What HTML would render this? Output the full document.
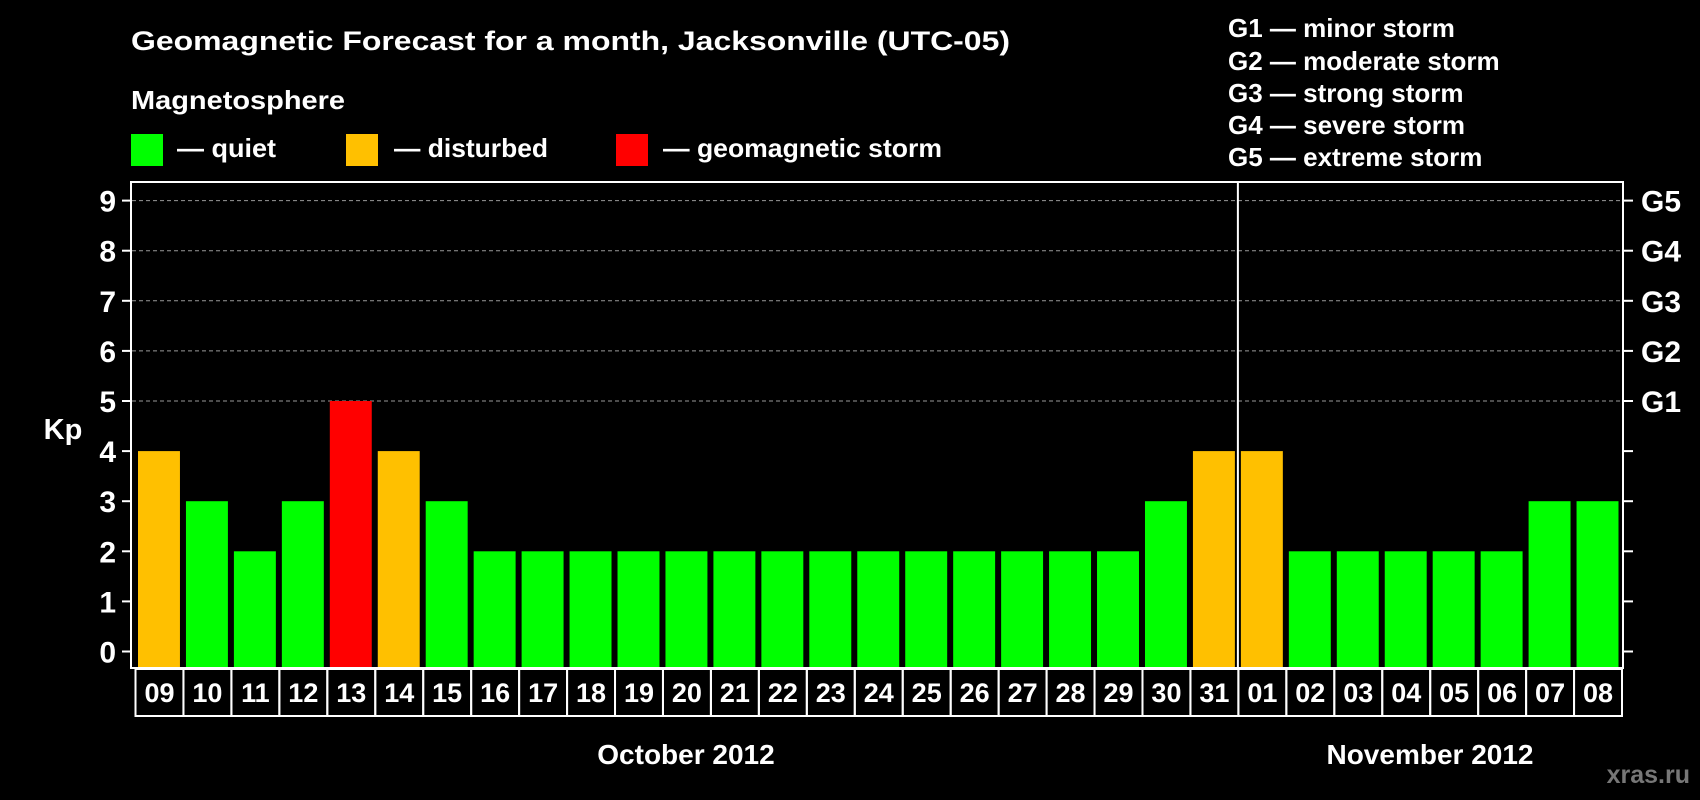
<!DOCTYPE html>
<html><head><meta charset="utf-8"><style>
html,body{margin:0;padding:0;background:#000;}
svg{display:block;font-family:"Liberation Sans",Arial,sans-serif;font-weight:bold;}
</style></head><body>
<svg id="chart" width="1700" height="800" viewBox="0 0 1700 800" xmlns="http://www.w3.org/2000/svg">
<rect width="1700" height="800" fill="#000"/>
<text x="131" y="50" fill="#fff" font-size="27" textLength="879" lengthAdjust="spacingAndGlyphs">Geomagnetic Forecast for a month, Jacksonville (UTC-05)</text>
<text x="131" y="109" fill="#fff" font-size="26" textLength="214" lengthAdjust="spacingAndGlyphs">Magnetosphere</text>
<g><rect x="131" y="134" width="32" height="32" fill="#00ff00"/><text x="177" y="157" fill="#fff" font-size="26" textLength="99" lengthAdjust="spacingAndGlyphs">— quiet</text></g>
<g><rect x="346" y="134" width="32" height="32" fill="#ffc000"/><text x="394" y="157" fill="#fff" font-size="26" textLength="154" lengthAdjust="spacingAndGlyphs">— disturbed</text></g>
<g><rect x="616" y="134" width="32" height="32" fill="#ff0000"/><text x="663" y="157" fill="#fff" font-size="26" textLength="279" lengthAdjust="spacingAndGlyphs">— geomagnetic storm</text></g>
<g fill="#fff" font-size="26">
<text x="1228" y="37">G1 — minor storm</text>
<text x="1228" y="70">G2 — moderate storm</text>
<text x="1228" y="102">G3 — strong storm</text>
<text x="1228" y="134">G4 — severe storm</text>
<text x="1228" y="166">G5 — extreme storm</text>
</g>
<g id="grid"></g>
<g id="bars"></g>
<rect x="131" y="182" width="1492" height="486" fill="none" stroke="#fff" stroke-width="2"/>
<g id="axes"></g>
<g id="xlabels"></g>
<text x="686" y="764" fill="#fff" font-size="28" text-anchor="middle">October 2012</text>
<text x="1430" y="764" fill="#fff" font-size="28" text-anchor="middle">November 2012</text>
<text x="63" y="439" fill="#fff" font-size="29" text-anchor="middle">Kp</text>
<text x="1690" y="783" fill="#777" font-size="25" text-anchor="end">xras.ru</text>
</svg>
<script>
const days = ["09","10","11","12","13","14","15","16","17","18","19","20","21","22","23","24","25","26","27","28","29","30","31","01","02","03","04","05","06","07","08"];
const kpValues = [4,3,2,3,5,4,3,2,2,2,2,2,2,2,2,2,2,2,2,2,2,3,4,4,2,2,2,2,2,3,3];
const yTicks = [0,1,2,3,4,5,6,7,8,9];
const gLabels = ["G1","G2","G3","G4","G5"];
const NS = "http://www.w3.org/2000/svg";
const y0 = 651.5, unit = 50.1;
const yScale = v => y0 - v * unit;
const x0 = 135.5, step = (1622 - 135.5) / days.length;
const xScale = i => x0 + i * step;
function mk(tag, attrs, parent){const e=document.createElementNS(NS,tag);for(const k in attrs)e.setAttribute(k,attrs[k]);parent.appendChild(e);return e;}
const grid=document.getElementById('grid'),bars=document.getElementById('bars'),axes=document.getElementById('axes'),xl=document.getElementById('xlabels');
yTicks.forEach(v=>{
  const y=yScale(v);
  if(v>=5){const l=mk('line',{x1:132,x2:1622,y1:y,y2:y,stroke:'#999','stroke-width':1,'stroke-dasharray':'4,3'},grid);
  
  }
  const t1=mk('line',{x1:122,x2:131,y1:y,y2:y,stroke:'#fff','stroke-width':2},axes);
  
  
  const t2=mk('line',{x1:1623,x2:1633,y1:y,y2:y,stroke:'#fff','stroke-width':2},axes);
  
  
  const tx=mk('text',{x:116,y:y+11,fill:'#fff','font-size':30,'text-anchor':'end'},axes);
  tx.textContent=v;
  
  
  if(v>=5){const g=mk('text',{x:1641,y:y+11,fill:'#fff','font-size':30},axes);
  g.textContent=gLabels[v-5];
  
  }
});
kpValues.forEach((v,i)=>{
  const c=v>=5?'#ff0000':(v>=4?'#ffc000':'#00ff00');
  const x=xScale(i)+2.5;
  const r=mk('rect',{x:x,y:yScale(v),width:step-6,height:667-yScale(v),fill:c},bars);
  
  
  const b=mk('rect',{x:xScale(i),y:669,width:step,height:47,fill:'none',stroke:'#fff','stroke-width':2},xl);
  
  
  const t=mk('text',{x:xScale(i)+step/2,y:702,fill:'#fff','font-size':27,'text-anchor':'middle'},xl);
  t.textContent=days[i];
  
  
});
const mi=days.indexOf("01");
const d=mk('line',{x1:xScale(mi)-0.5,x2:xScale(mi)-0.5,y1:182,y2:668,stroke:'#fff','stroke-width':2},axes);


</script>
</body></html>
